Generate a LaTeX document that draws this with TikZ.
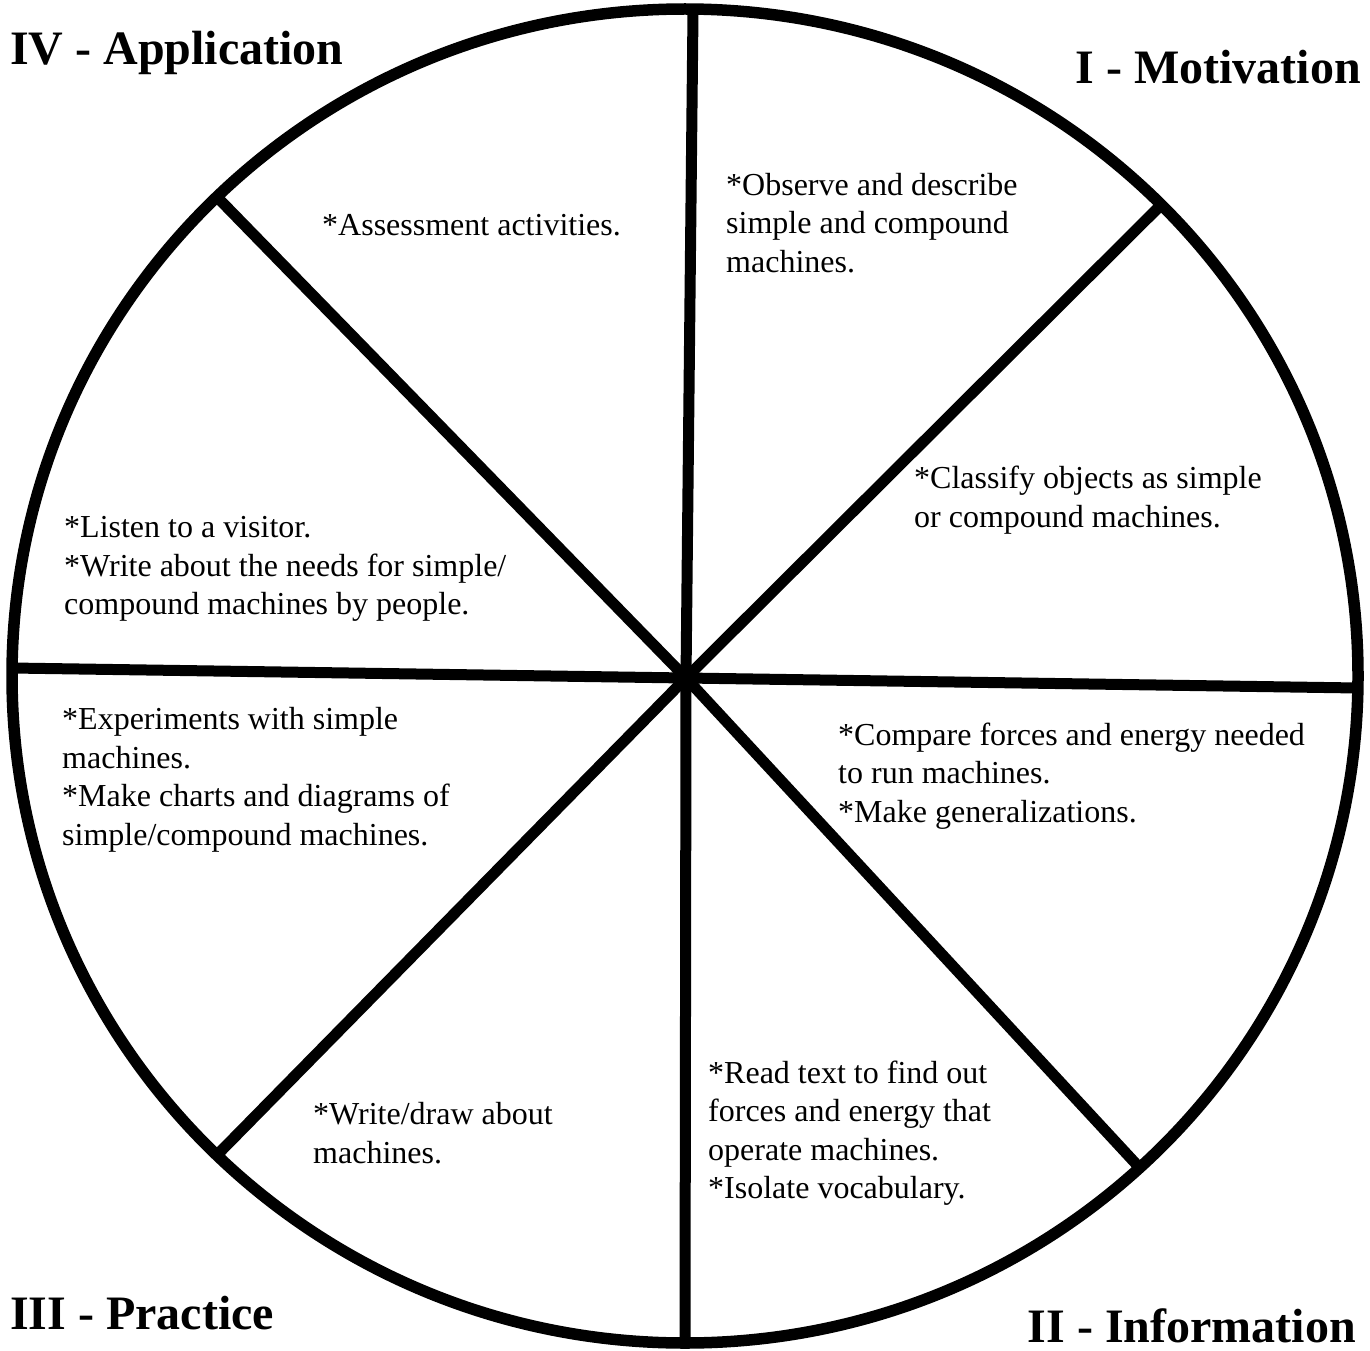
\documentclass[tikz,border=0pt]{standalone}
\usepackage{fontspec}
\setmainfont{Liberation Serif}
\begin{document}
\begin{tikzpicture}[x=1pt,y=-1pt,
  spoke/.style={line width=11pt},
  rim/.style={line width=11.5pt},
  body/.style={font=\fontsize{32}{38.5}\selectfont, align=left, inner sep=0pt},
  title/.style={font=\fontsize{48}{50}\selectfont\bfseries, inner sep=0pt}]
\useasboundingbox (0,0) rectangle (1370,1351);
\coordinate (c) at (686,678);
\draw[rim] (685,676) ellipse [x radius=673, y radius=667];
\coordinate (t) at (693,12);
\coordinate (b) at (685,1342);
\coordinate (l) at (12,668);
\coordinate (r) at (1358,688);
\coordinate (tl) at (218,198);
\coordinate (tr) at (1158,208);
\coordinate (bl) at (220,1152);
\coordinate (br) at (1138,1166);
\foreach \p in {t,b,l,r,tl,tr,bl,br} \draw[spoke] (c) -- (\p);
\node[title, anchor=west] (q4) at (10,53) {IV - Application};
\node[title, anchor=east] (q1) at (1361,67) {I - Motivation};
\node[title, anchor=west] (q3) at (10,1313) {III - Practice};
\node[title, anchor=east] (q2) at (1356,1326) {II - Information};
\node[body, anchor=west] (a1) at (726,223) {*Observe and describe\\simple and compound\\machines.};
\node[body, anchor=west] (a2) at (914,500) {*Classify objects as simple\\or compound machines.};
\node[body, anchor=west] (a3) at (838,776) {*Compare forces and energy needed\\to run machines.\\*Make generalizations.};
\node[body, anchor=west] (a4) at (708,1133) {*Read text to find out\\forces and energy that\\operate machines.\\*Isolate vocabulary.};
\node[body, anchor=west] (a5) at (313,1133) {*Write/draw about\\machines.};
\node[body, anchor=west] (a6) at (62,780) {*Experiments with simple\\machines.\\*Make charts and diagrams of\\simple/compound machines.};
\node[body, anchor=west] (a7) at (64,569) {*Listen to a visitor.\\*Write about the needs for simple/\\compound machines by people.};
\node[body, anchor=west] (a8) at (322,225) {*Assessment activities.};
\end{tikzpicture}
\end{document}
